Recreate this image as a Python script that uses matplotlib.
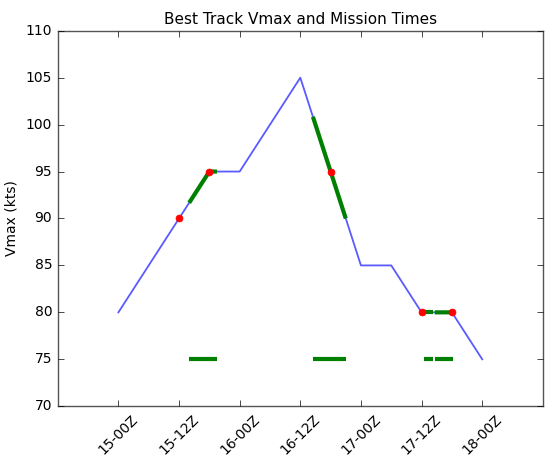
import numpy as np
import matplotlib
matplotlib.use('Agg')
import matplotlib.pyplot as plt

# hours after 15-00Z
track_hours = [0, 12, 18, 24, 36, 48, 54, 60, 66, 72]
track_vmax = [80, 90, 95, 95, 105, 85, 85, 80, 80, 75]

fix_hours = [12, 18, 42, 60, 66]

mission_start = [14, 38.5, 60.5, 62.6]
mission_end = [19.5, 45, 62.3, 66.3]
mission_level = 75

tick_hours = [0, 12, 24, 36, 48, 60, 72]
tick_labels = ['15-00Z', '15-12Z', '16-00Z', '16-12Z', '17-00Z', '17-12Z', '18-00Z']

plt.style.use('classic')
plt.rcParams['font.family'] = 'DejaVu Sans'
fig = plt.figure(figsize=(5.5, 4.59), dpi=100, facecolor='white')
ax = fig.add_axes([0.105, 0.115, 0.882, 0.818])

ax.plot(track_hours, track_vmax, color='#5a5aff', lw=1.3)

for s, e in zip(mission_start, mission_end):
    hh = np.linspace(s, e, 50)
    ax.plot(hh, np.interp(hh, track_hours, track_vmax), color='green', lw=3, solid_capstyle='butt')
    ax.plot([s, e], [mission_level, mission_level], color='green', lw=3, solid_capstyle='butt')

ax.plot(fix_hours, np.interp(fix_hours, track_hours, track_vmax), 'o', color='red',
        markeredgecolor='red', markersize=5)

ax.set_xlim(-12, 84)
ax.set_ylim(70, 110)
ax.set_xticks(tick_hours)
ax.set_xticklabels(tick_labels, rotation=45, fontsize=10)
ax.tick_params(axis='y', labelsize=10)
ax.set_ylabel('Vmax (kts)', fontsize=10)
ax.set_title('Best Track Vmax and Mission Times', fontsize=11)
for sp in ax.spines.values():
    sp.set_color('#555555')

fig.savefig('out.png', dpi=100, facecolor='white')
